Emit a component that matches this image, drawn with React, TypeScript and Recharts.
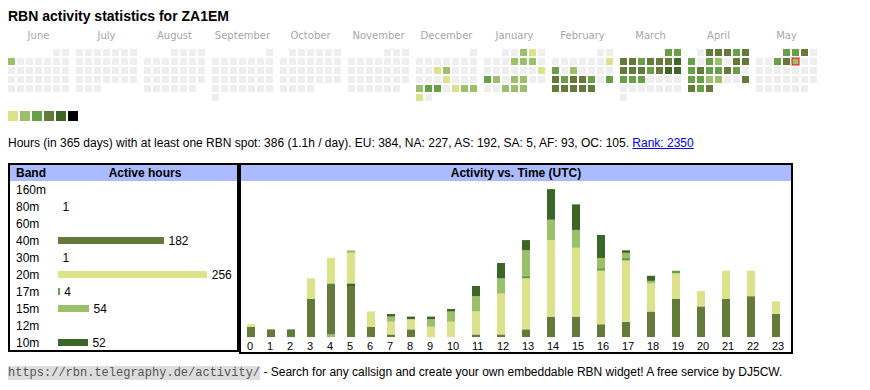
import React from 'react';
import { BarChart, Bar, XAxis, YAxis, ScatterChart, Scatter, LabelList } from 'recharts';

// ---------- data ----------
const callsign = 'ZA1EM';
const monthKeys = ['2024-06', '2024-07', '2024-08', '2024-09', '2024-10', '2024-11', '2024-12', '2025-01', '2025-02', '2025-03', '2025-04', '2025-05'];
const monthNames = ['June', 'July', 'August', 'September', 'October', 'November', 'December', 'January', 'February', 'March', 'April', 'May'];
const today = '2025-05-09';

// [date, activity level 1..6]
const activeDays: [string, number][] = [
  ['2024-06-03', 2],
  ['2024-12-11', 1], ['2024-12-12', 2], ['2024-12-19', 1], ['2024-12-23', 2], ['2024-12-24', 3], ['2024-12-25', 3],
  ['2024-12-27', 1], ['2024-12-28', 2], ['2024-12-29', 2], ['2024-12-30', 1],
  ['2025-01-03', 2], ['2025-01-04', 1], ['2025-01-09', 2], ['2025-01-10', 2], ['2025-01-11', 2], ['2025-01-19', 1],
  ['2025-01-20', 3], ['2025-01-21', 2], ['2025-01-23', 2], ['2025-01-24', 2], ['2025-01-29', 2], ['2025-01-30', 2], ['2025-01-31', 2],
  ['2025-02-09', 1], ['2025-02-10', 3], ['2025-02-12', 2], ['2025-02-17', 4], ['2025-02-18', 3], ['2025-02-19', 4],
  ['2025-02-20', 4], ['2025-02-21', 3], ['2025-02-23', 3], ['2025-02-24', 4], ['2025-02-25', 4], ['2025-02-26', 4],
  ['2025-02-27', 4], ['2025-02-28', 4],
  ['2025-03-01', 3], ['2025-03-02', 3], ['2025-03-03', 4], ['2025-03-04', 4], ['2025-03-05', 3], ['2025-03-06', 4],
  ['2025-03-07', 4], ['2025-03-08', 4], ['2025-03-09', 5], ['2025-03-10', 4], ['2025-03-11', 4], ['2025-03-12', 4],
  ['2025-03-13', 3], ['2025-03-14', 4], ['2025-03-15', 5], ['2025-03-16', 5], ['2025-03-17', 3], ['2025-03-18', 3], ['2025-03-19', 3],
  ['2025-04-02', 4], ['2025-04-03', 4], ['2025-04-04', 4], ['2025-04-05', 3], ['2025-04-06', 4], ['2025-04-07', 3],
  ['2025-04-09', 3], ['2025-04-10', 2], ['2025-04-12', 4], ['2025-04-13', 4], ['2025-04-14', 3], ['2025-04-15', 4],
  ['2025-04-16', 3], ['2025-04-17', 3], ['2025-04-18', 4], ['2025-04-19', 3], ['2025-04-21', 3], ['2025-04-22', 3],
  ['2025-04-23', 2], ['2025-04-24', 2], ['2025-04-27', 4], ['2025-04-28', 4], ['2025-04-29', 3], ['2025-04-30', 4],
  ['2025-05-01', 3], ['2025-05-02', 3], ['2025-05-03', 4], ['2025-05-07', 3], ['2025-05-08', 4], ['2025-05-09', 2],
];

const levelColors = ['#eeeeee', '#dbe28a', '#9cc06a', '#67a046', '#637a3b', '#3b6628', '#000000'];

const bandNames = ['160m', '80m', '60m', '40m', '30m', '20m', '17m', '15m', '12m', '10m'];
const bandHours = [0, 1, 0, 182, 1, 256, 4, 54, 0, 52];
const bandColors = ['#dbe28a', '#9cc06a', '#67a046', '#637a3b', '#3b6628', '#dbe28a', '#67a046', '#9cc06a', '#637a3b', '#3b6628'];

const hourLabels = ['0', '1', '2', '3', '4', '5', '6', '7', '8', '9', '10', '11', '12', '13', '14', '15', '16', '17', '18', '19', '20', '21', '22', '23'];
const h80m = [0, 0, 0, 0, 1, 0, 0, 0, 0, 0, 0, 0, 0, 0, 0, 0, 0, 0, 0, 0, 0, 0, 0, 0];
const h40m = [4, 3, 3, 15, 20, 20, 4, 1, 3, 0, 0, 1, 1, 3, 8, 8, 5, 6, 10, 15, 12, 15, 16, 9];
const h30m = [0, 0, 0, 0, 0, 1, 0, 0, 0, 0, 0, 0, 0, 0, 0, 0, 0, 0, 0, 0, 0, 0, 0, 0];
const h20m = [1, 0, 0, 8, 10, 12, 6, 5, 4, 4, 6, 9, 16, 20, 30, 27, 21, 24, 11, 10, 6, 11, 10, 5];
const h17m = [0, 0, 0, 0, 0, 0, 0, 0, 0, 0, 0, 0, 0, 1, 0, 0, 1, 1, 0, 1, 0, 0, 0, 0];
const h15m = [0, 0, 0, 0, 0, 1, 0, 2, 0, 3, 4, 6, 6, 10, 8, 7, 4, 2, 1, 0, 0, 0, 0, 0];
const h10m = [0, 0, 0, 0, 0, 0, 0, 1, 1, 1, 1, 4, 6, 4, 12, 10, 9, 1, 2, 0, 0, 0, 0, 0];

const summaryText = 'Hours (in 365 days) with at least one RBN spot: 386 (1.1h / day). EU: 384, NA: 227, AS: 192, SA: 5, AF: 93, OC: 105. ';
const rankText = 'Rank: 2350';

// ---------- derived tables ----------
const MONTH_STRIDE = 68 / 9; // month block width in cell units
const levelMap: Record<string, number> = Object.fromEntries(activeDays);

const calendarCells = monthKeys.flatMap((key, m) => {
  const [y, mo] = key.split('-').map(Number);
  const days = new Date(Date.UTC(y, mo, 0)).getUTCDate();
  const first = (new Date(Date.UTC(y, mo - 1, 1)).getUTCDay() + 6) % 7;
  const out: any[] = [];
  for (let d = 1; d <= days; d++) {
    const idx = first + d - 1;
    const date = `${key}-${String(d).padStart(2, '0')}`;
    out.push({
      x: m * MONTH_STRIDE + (idx % 7) + 0.5,
      y: Math.floor(idx / 7) + 0.5,
      level: levelMap[date] ?? 0,
      today: date === today,
    });
  }
  return out;
});
const monthTicks = monthNames.map((_, m) => m * MONTH_STRIDE + 3.5);

let acc = 0;
const hourData = hourLabels.map((label, i) => {
  const pos = acc + 10;
  acc += 15 + 5 * label.length;
  return { label, pos, b80: h80m[i], b40: h40m[i], b30: h30m[i], b20: h20m[i], b17: h17m[i], b15: h15m[i], b10: h10m[i] };
});
const posToLabel = new Map(hourData.map((d) => [d.pos, d.label]));
const hourSeries = [
  { key: 'b80', color: bandColors[1] },
  { key: 'b40', color: bandColors[3] },
  { key: 'b30', color: bandColors[4] },
  { key: 'b20', color: bandColors[5] },
  { key: 'b17', color: bandColors[6] },
  { key: 'b15', color: bandColors[7] },
  { key: 'b10', color: bandColors[9] },
];

const bandData = bandNames.map((band, i) => ({ band, hours: bandHours[i], color: bandColors[i] }));

// ---------- components ----------
const FONT = 'Arial, "Liberation Sans", sans-serif';

const CalCell = (p: any) => (
  <rect
    x={p.cx - 3.5}
    y={p.cy - 3.5}
    width={7}
    height={7}
    fill={levelColors[p.payload.level]}
    stroke={p.payload.today ? '#ff0000' : 'none'}
    strokeWidth={1}
  />
);

const MonthTick = (p: any) => {
  const m = Math.round((p.payload.value - 3.5) / MONTH_STRIDE);
  return (
    <text x={p.x} y={39} textAnchor="middle" fontSize={10} fontFamily='"DejaVu Sans", Verdana, sans-serif' fill="#a6a6a6">
      {monthNames[m]}
    </text>
  );
};

const HourTick = (p: any) => (
  <text x={p.x - 4} y={169} textAnchor="start" fontSize={11} fontFamily={FONT} fill="#000">
    {posToLabel.get(p.payload.value)}
  </text>
);

const BandTick = (p: any) => (
  <text x={6} y={p.y + 4} textAnchor="start" fontSize={12} fontFamily={FONT} fill="#000">
    {p.payload.value}
  </text>
);

// table-cell style bar: width snapped down to whole pixels
const BandBar = (p: any) => {
  const w = Math.floor(p.width || 0);
  if (w <= 0) return <g />;
  return <rect x={p.x} y={p.y} width={w} height={p.height} fill={p.payload.color} />;
};

const abs = (left: number, top: number, extra: React.CSSProperties = {}): React.CSSProperties => ({
  position: 'absolute',
  left,
  top,
  ...extra,
});

export default function App() {
  return (
    <div style={{ position: 'absolute', left: 0, top: 0, width: 870, height: 390, background: '#fff', fontFamily: FONT, color: '#000' }}>
      <div style={abs(8, 8, { fontSize: 14, fontWeight: 'bold', lineHeight: '16px', whiteSpace: 'nowrap' })}>
        RBN activity statistics for {callsign}
      </div>

      <div style={abs(0, 0)}>
        <ScatterChart width={870} height={110} margin={{ top: 28, right: 35, bottom: 8, left: 7 }}>
          <XAxis
            type="number"
            dataKey="x"
            orientation="top"
            domain={[0, 92]}
            ticks={monthTicks}
            tick={<MonthTick />}
            tickLine={false}
            axisLine={false}
            height={20}
            interval={0}
          />
          <YAxis type="number" dataKey="y" domain={[0, 6]} reversed hide />
          <Scatter data={calendarCells} shape={<CalCell />} isAnimationActive={false} />
        </ScatterChart>
      </div>

      {levelColors.slice(1).map((c, i) => (
        <div key={i} style={abs(8 + 12 * i, 111, { width: 10, height: 10, background: c })} />
      ))}

      <div style={abs(8, 136, { fontSize: 12, lineHeight: '14px', whiteSpace: 'nowrap' })}>
        {summaryText}
        <a href="#" style={{ color: '#0000ee', textDecoration: 'underline' }}>{rankText}</a>
      </div>

      {/* Band panel */}
      <div style={abs(8, 163, { width: 231, height: 189, border: '2px solid #000', boxSizing: 'border-box' })} />
      <div style={abs(10, 165, { width: 227, height: 16, background: '#aabbff' })} />
      <div style={abs(16, 166, { fontSize: 12, fontWeight: 'bold', lineHeight: '14px' })}>Band</div>
      <div style={abs(58, 166, { width: 174, textAlign: 'center', fontSize: 12, fontWeight: 'bold', lineHeight: '14px' })}>Active hours</div>
      <div style={abs(10, 181)}>
        <BarChart layout="vertical" width={227} height={170} data={bandData} margin={{ top: 0, right: 0, bottom: 0, left: 0 }}>
          <XAxis type="number" hide domain={[0, 306]} />
          <YAxis type="category" dataKey="band" width={48} tickLine={false} axisLine={false} tick={<BandTick />} interval={0} />
          <Bar dataKey="hours" barSize={7} shape={<BandBar />} isAnimationActive={false}>
            <LabelList
              dataKey="hours"
              position="right"
              offset={4}
              fontSize={12}
              fontFamily={FONT}
              fill="#000"
              formatter={(v: any) => (v ? v : '')}
            />
          </Bar>
        </BarChart>
      </div>

      {/* Time panel */}
      <div style={abs(239, 163, { width: 554, height: 191, border: '2px solid #000', boxSizing: 'border-box' })} />
      <div style={abs(241, 165, { width: 550, height: 16, background: '#aabbff' })} />
      <div style={abs(241, 166, { width: 550, textAlign: 'center', fontSize: 12, fontWeight: 'bold', lineHeight: '14px' })}>
        Activity vs. Time (UTC)
      </div>
      <div style={abs(241, 181)}>
        <BarChart width={550} height={171} data={hourData} margin={{ top: 3, right: 0, bottom: 0, left: 0 }}>
          <XAxis
            type="number"
            dataKey="pos"
            domain={[0, 550]}
            ticks={hourData.map((d) => d.pos)}
            tick={<HourTick />}
            tickLine={false}
            axisLine={false}
            height={15}
            interval={0}
          />
          <YAxis hide domain={[0, 60]} />
          {hourSeries.map((s) => (
            <Bar key={s.key} dataKey={s.key} stackId="a" fill={s.color} barSize={8} isAnimationActive={false} />
          ))}
        </BarChart>
      </div>

      <div style={abs(8, 365, { fontSize: 12, lineHeight: '14px', whiteSpace: 'nowrap' })}>
        <span style={{ fontFamily: '"Liberation Mono", monospace', fontSize: 12, color: '#555', background: '#dddddd' }}>
          https://rbn.telegraphy.de/activity/
        </span>
        {' - Search for any callsign and create your own embeddable RBN widget! A free service by DJ5CW.'}
      </div>
    </div>
  );
}
